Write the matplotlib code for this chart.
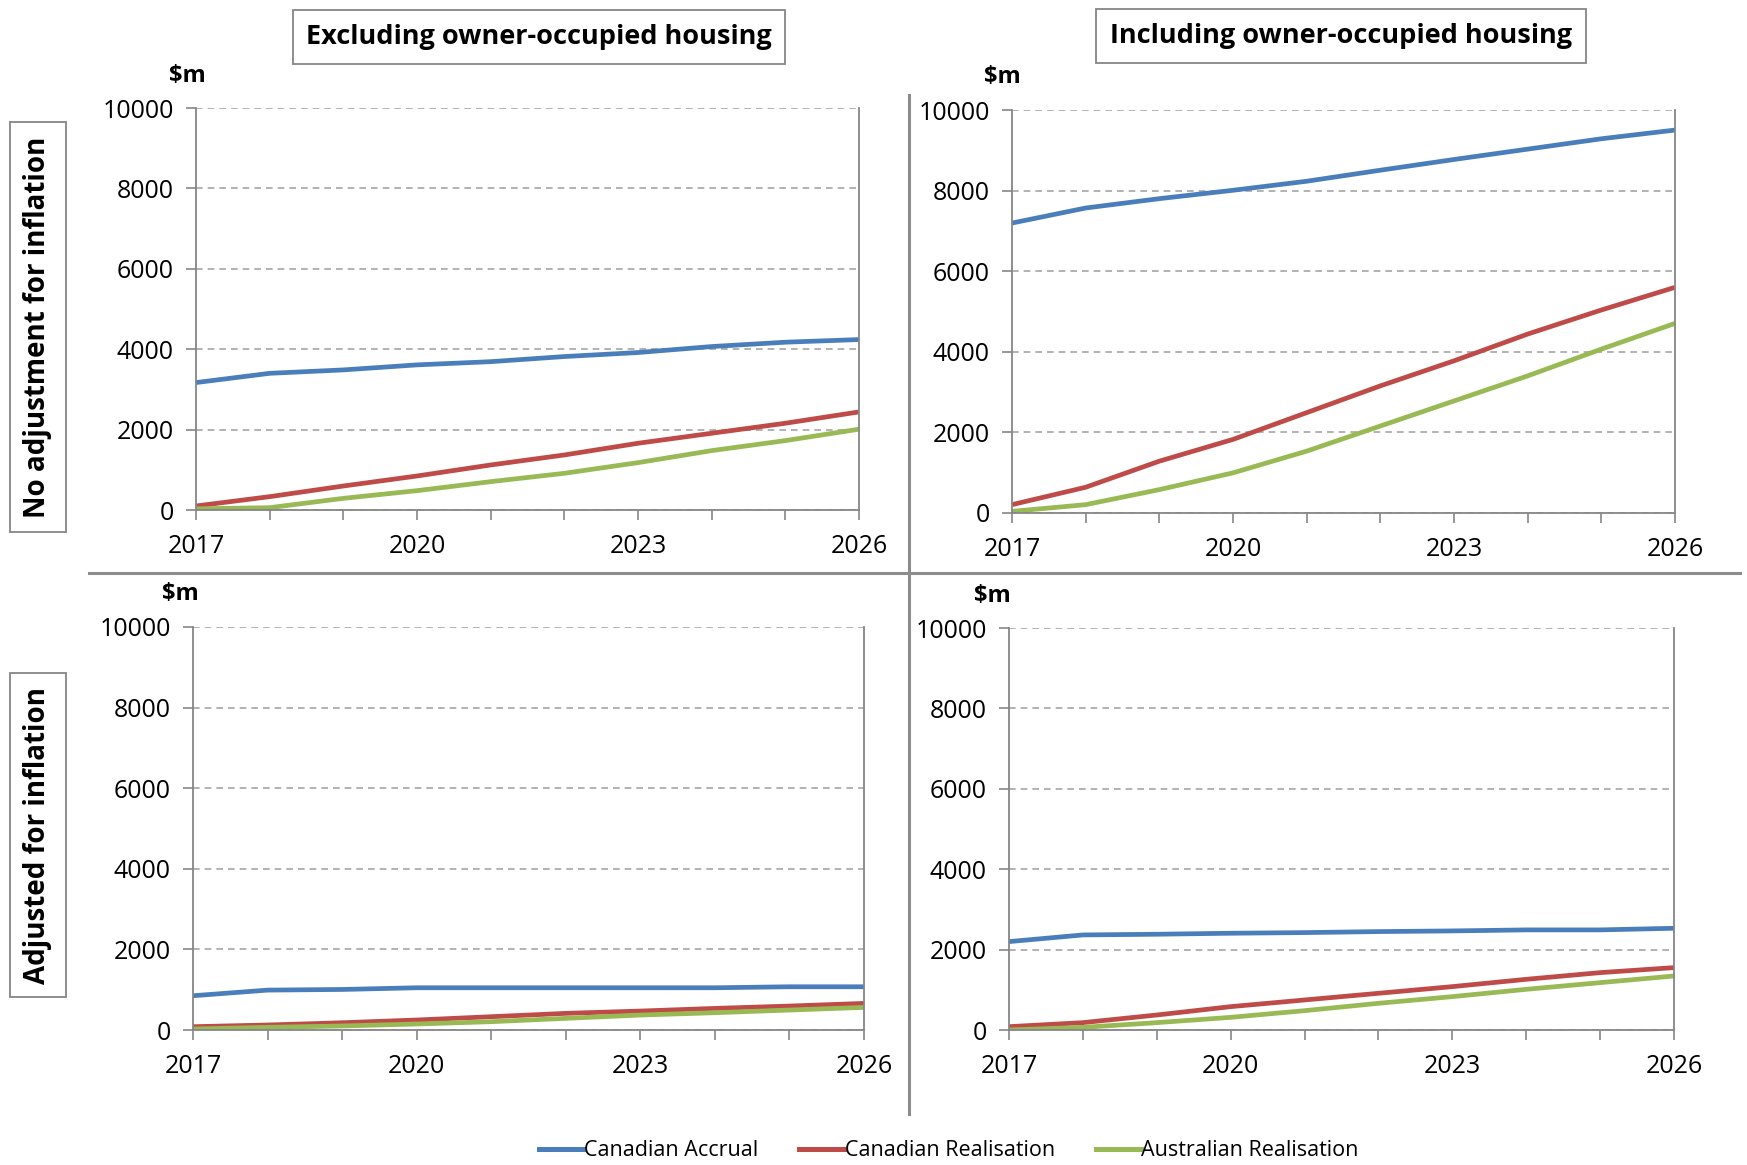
import matplotlib
matplotlib.use("Agg")
import matplotlib.pyplot as plt
from matplotlib.lines import Line2D

plt.rcParams['font.family'] = ['Open Sans', 'DejaVu Sans']

# Данные (млн $), 2017-2026
years = list(range(2017, 2027))

# Без поправки на инфляцию, без жилья владельцев
accrual_excl = [3170, 3400, 3485, 3610, 3690, 3817, 3917, 4066, 4174, 4240]
canreal_excl = [100, 332, 597, 846, 1120, 1369, 1660, 1909, 2158, 2440]
ausreal_excl = [30, 58, 290, 481, 705, 913, 1178, 1477, 1726, 2010]

# Без поправки на инфляцию, с жильём владельцев
accrual_incl = [7195, 7568, 7800, 8008, 8232, 8506, 8772, 9029, 9286, 9502]
canreal_incl = [207, 639, 1286, 1826, 2490, 3154, 3776, 4440, 5037, 5600]
ausreal_incl = [40, 207, 580, 996, 1535, 2158, 2780, 3402, 4066, 4705]

# С поправкой на инфляцию, без жилья владельцев
accrual_excl_adj = [850, 990, 1006, 1048, 1048, 1048, 1048, 1048, 1073, 1073]
canreal_excl_adj = [82, 124, 180, 248, 330, 413, 470, 536, 594, 660]
ausreal_excl_adj = [25, 66, 100, 149, 206, 289, 371, 429, 495, 561]

# С поправкой на инфляцию, с жильём владельцев
accrual_incl_adj = [2199, 2365, 2382, 2407, 2423, 2448, 2465, 2490, 2490, 2531]
canreal_incl_adj = [83, 183, 373, 581, 747, 913, 1079, 1261, 1427, 1552]
ausreal_incl_adj = [0, 66, 183, 315, 481, 664, 830, 1012, 1178, 1344]

series_names = ['Canadian Accrual', 'Canadian Realisation', 'Australian Realisation']
colors = ['#4A7EBB', '#BE4B48', '#98B954']
col_titles = ['Excluding owner-occupied housing', 'Including owner-occupied housing']
row_titles = ['No adjustment for inflation', 'Adjusted for inflation']

W, H = 1747, 1165
fig = plt.figure(figsize=(W / 100, H / 100), dpi=100)
axis_gray = '#868686'


def px_axes(l, r, t, b):
    return fig.add_axes([l / W, 1 - b / H, (r - l) / W, (b - t) / H])


def draw_panel(ax, data):
    for vals, c in zip(data, colors):
        ax.plot(years, vals, color=c, lw=3.4, solid_capstyle='butt')
    ax.set_xlim(2017, 2026)
    ax.set_ylim(0, 10000)
    ax.set_yticks(range(0, 10001, 2000))
    ax.set_xticks(years)
    ax.set_xticklabels([str(y) if (y - 2017) % 3 == 0 else '' for y in years])
    ax.grid(axis='y', color='#A6A6A6', ls=(0, (4, 3)), lw=1.2)
    ax.set_axisbelow(True)
    ax.spines['top'].set_visible(False)
    for s in ['left', 'right', 'bottom']:
        ax.spines[s].set_color(axis_gray)
        ax.spines[s].set_linewidth(1.3)
    ax.tick_params(axis='y', length=7, width=1.2, color=axis_gray, pad=9, labelsize=18)
    ax.tick_params(axis='x', length=7, width=1.2, color=axis_gray, pad=10, labelsize=18)


panels = [
    ((196, 859, 108, 510), [accrual_excl, canreal_excl, ausreal_excl], (187, 76)),
    ((1012, 1675, 110, 513), [accrual_incl, canreal_incl, ausreal_incl], (1002, 77)),
    ((193, 864, 627, 1030), [accrual_excl_adj, canreal_excl_adj, ausreal_excl_adj], (180, 594)),
    ((1009, 1674, 628, 1030), [accrual_incl_adj, canreal_incl_adj, ausreal_incl_adj], (992, 596)),
]
for box, data, (ux, uy) in panels:
    ax = px_axes(*box)
    draw_panel(ax, data)
    fig.text(ux / W, 1 - uy / H, r'\$m', ha='center', va='center', fontsize=17, fontweight='bold')

# Заголовки столбцов и строк
box_style = dict(boxstyle='square,pad=0.5', fc='white', ec=axis_gray, lw=1.3)
fig.text(539 / W, 1 - 37 / H, col_titles[0], ha='center', va='center',
         fontsize=19.5, fontweight='bold', bbox=box_style)
fig.text(1341 / W, 1 - 36 / H, col_titles[1], ha='center', va='center',
         fontsize=19.5, fontweight='bold', bbox=box_style)
fig.text(38 / W, 1 - 327 / H, row_titles[0], ha='center', va='center', rotation=90,
         fontsize=20, fontweight='bold', bbox=box_style)
fig.text(38 / W, 1 - 835 / H, row_titles[1], ha='center', va='center', rotation=90,
         fontsize=20, fontweight='bold', bbox=box_style)

# Разделительные линии
sep_kw = dict(color='#8C8C8C', lw=2.2, transform=fig.transFigure)
fig.add_artist(Line2D([89 / W, 1740 / W], [1 - 573 / H, 1 - 573 / H], **sep_kw))
fig.add_artist(Line2D([909 / W, 909 / W], [1 - 95 / H, 1 - 1114 / H], **sep_kw))

# Легенда
handles = [Line2D([], [], color=c, lw=3.6) for c in colors]
fig.legend(handles, series_names, loc='center', bbox_to_anchor=(0.543, 1 - 1151 / H),
           ncol=3, frameon=False, fontsize=15.5, handlelength=2.1, handletextpad=0.0,
           columnspacing=1.9)

fig.savefig('out.png', dpi=100)
